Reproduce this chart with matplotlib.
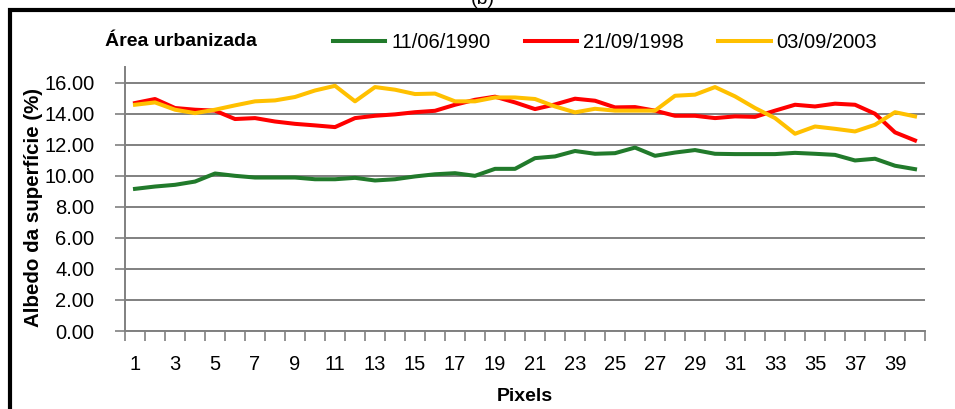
"""
Surface albedo profile along 40 pixels, urban area, three dates.
"""

import matplotlib

matplotlib.use("Agg")
import matplotlib.pyplot as plt
from matplotlib.patches import Rectangle
from matplotlib.ticker import FixedLocator, FuncFormatter

plt.rcParams["font.family"] = ["Liberation Sans", "DejaVu Sans"]

# Data
pixels = list(range(1, 41))

albedo_1990 = [
    9.16, 9.31, 9.42, 9.63, 10.15, 10.0, 9.89, 9.89, 9.89, 9.78,
    9.78, 9.87, 9.70, 9.78, 9.96, 10.10, 10.17, 10.0, 10.45, 10.45,
    11.14, 11.25, 11.60, 11.42, 11.46, 11.82, 11.29, 11.50, 11.66, 11.42,
    11.40, 11.40, 11.40, 11.48, 11.42, 11.35, 10.99, 11.10, 10.65, 10.43,
]
albedo_1998 = [
    14.69, 14.95, 14.37, 14.26, 14.20, 13.66, 13.72, 13.50, 13.35, 13.25,
    13.14, 13.72, 13.87, 13.96, 14.10, 14.19, 14.58, 14.90, 15.10, 14.73,
    14.30, 14.60, 14.97, 14.84, 14.41, 14.43, 14.20, 13.87, 13.87, 13.72,
    13.83, 13.80, 14.20, 14.58, 14.47, 14.65, 14.58, 14.00, 12.80, 12.28,
]
albedo_2003 = [
    14.58, 14.73, 14.26, 14.04, 14.26, 14.54, 14.80, 14.86, 15.08, 15.50,
    15.80, 14.80, 15.72, 15.55, 15.27, 15.30, 14.80, 14.80, 15.05, 15.05,
    14.95, 14.47, 14.09, 14.32, 14.20, 14.20, 14.20, 15.16, 15.23, 15.72,
    15.12, 14.37, 13.72, 12.71, 13.18, 13.03, 12.86, 13.29, 14.10, 13.83,
]

series_labels = ["11/06/1990", "21/09/1998", "03/09/2003"]
series_colors = ["#217a2b", "#ff0000", "#ffc000"]
y_ticks = [0, 2, 4, 6, 8, 10, 12, 14, 16]


def main() -> int:
    fig = plt.figure(figsize=(9.55, 4.09), dpi=100)
    ax = fig.add_axes([0.1309, 0.1907, 0.8377, 0.645])

    for values, label, color in zip(
        [albedo_1990, albedo_1998, albedo_2003], series_labels, series_colors
    ):
        ax.plot(pixels, values, color=color, linewidth=2.9, label=label,
                solid_joinstyle="round", zorder=3)

    ax.set_xlim(0.5, 40.5)
    ax.set_ylim(0, 17)
    ax.set_yticks(y_ticks)
    ax.yaxis.set_major_formatter(FuncFormatter(lambda v, _: f"{v:.2f}"))
    ax.grid(axis="y", color="#808080", linewidth=1.4, zorder=1)
    ax.tick_params(axis="y", length=7, width=1.2, color="#808080",
                   labelsize=14.5, pad=15)

    # Category ticks sit between pixels, labels on odd pixels only
    ax.xaxis.set_major_locator(FixedLocator([p - 0.5 for p in pixels] + [40.5]))
    ax.xaxis.set_major_formatter(FuncFormatter(lambda v, _: ""))
    ax.xaxis.set_minor_locator(FixedLocator(pixels[::2]))
    ax.xaxis.set_minor_formatter(FuncFormatter(lambda v, _: f"{int(round(v))}"))
    ax.tick_params(axis="x", which="major", length=7, width=1.2, color="#808080",
                   direction="out")
    ax.tick_params(axis="x", which="minor", length=0, labelsize=14.5, pad=17)

    for side in ("top", "right"):
        ax.spines[side].set_visible(False)
    for side in ("left", "bottom"):
        ax.spines[side].set_color("#808080")
        ax.spines[side].set_linewidth(1.4)

    ax.set_ylabel("Albedo da superfície (%)", fontsize=14.8, fontweight="bold")
    ax.yaxis.set_label_coords(-0.102, 0.47)
    ax.set_xlabel("Pixels", fontsize=14, fontweight="bold", labelpad=10)

    fig.text(105 / 955, 1 - 42 / 409, "Área urbanizada", fontsize=14,
             fontweight="bold", va="center", ha="left")
    ax.legend(loc="center left", bbox_to_anchor=(333 / 955, 1 - 43 / 409),
              bbox_transform=fig.transFigure, ncol=3, frameon=False,
              fontsize=14.5, handlelength=2.6, handletextpad=0.3,
              columnspacing=1.7, borderaxespad=0, borderpad=0)

    fig.text(483 / 955, 1.0, "(b)", fontsize=14, ha="center", va="center")

    # Outer frame, running off the right and bottom edges
    fig.patches.append(Rectangle((10 / 955, -0.2), 1.2, 1.2 - 10 / 409,
                                 transform=fig.transFigure, fill=False,
                                 edgecolor="black", linewidth=3.0, clip_on=False))

    fig.savefig("out.png", dpi=100)
    plt.close(fig)
    return 0


if __name__ == "__main__":
    raise SystemExit(main())
